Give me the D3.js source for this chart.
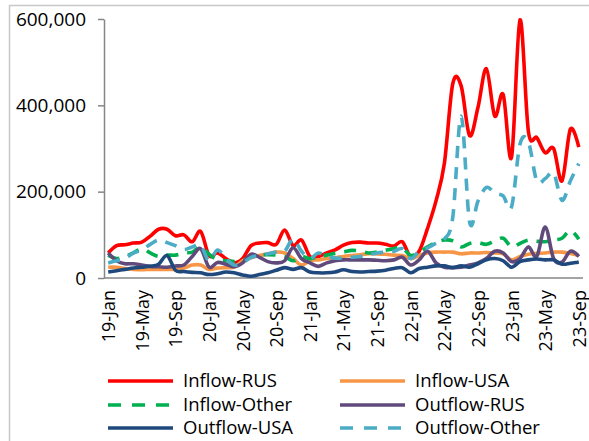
<!DOCTYPE html>
<html>
<head>
  <meta charset="UTF-8">
  <title>Flows</title>
  <script src="https://d3js.org/d3.v7.min.js"></script>
  <style>
    body { margin: 0; background: #fff; }
    svg { font-family: "Open Sans", sans-serif; }
    .line { fill: none; stroke-width: 3.6px; stroke-linejoin: round; }
  </style>
</head>
<body>
  <svg></svg>
  <script>
    const months = [
      "19-Jan","19-Feb","19-Mar","19-Apr","19-May","19-Jun","19-Jul","19-Aug","19-Sep","19-Oct","19-Nov","19-Dec",
      "20-Jan","20-Feb","20-Mar","20-Apr","20-May","20-Jun","20-Jul","20-Aug","20-Sep","20-Oct","20-Nov","20-Dec",
      "21-Jan","21-Feb","21-Mar","21-Apr","21-May","21-Jun","21-Jul","21-Aug","21-Sep","21-Oct","21-Nov","21-Dec",
      "22-Jan","22-Feb","22-Mar","22-Apr","22-May","22-Jun","22-Jul","22-Aug","22-Sep","22-Oct","22-Nov","22-Dec",
      "23-Jan","23-Feb","23-Mar","23-Apr","23-May","23-Jun","23-Jul","23-Aug","23-Sep"
    ];
    const tickLabels = ["19-Jan","19-May","19-Sep","20-Jan","20-May","20-Sep","21-Jan","21-May","21-Sep","22-Jan","22-May","22-Sep","23-Jan","23-May","23-Sep"];
    const yTicks = [0, 200000, 400000, 600000];

    // values in thousands
    const inflowRUS = [58,75,77,81,83,97,113,113,98,100,84,108,52,58,45,35,45,75,81,82,78,111,75,88,50,50,58,65,76,82,83,81,81,78,74,84,48,62,115,178,265,450,445,330,395,485,375,425,280,598,340,325,290,300,225,345,303];
    const inflowUSA = [25,25,22,20,19,20,20,20,20,23,30,30,20,23,24,25,40,47,52,56,60,58,45,30,40,42,45,47,50,52,54,56,56,55,53,52,45,52,58,60,60,60,56,58,58,59,58,56,42,50,55,57,58,60,60,57,52];
    const inflowOther = [53,45,50,58,68,58,50,53,53,58,60,72,55,42,40,38,40,50,53,54,53,50,40,50,45,50,53,57,60,64,62,58,60,64,68,70,52,60,72,82,88,86,72,80,82,78,86,92,72,80,88,85,84,88,92,110,90];
    const outflowRUS = [58,40,33,33,30,27,26,25,28,30,50,68,25,36,32,26,35,55,48,38,35,40,70,45,35,27,35,40,42,42,42,42,41,40,42,48,30,42,62,35,25,24,25,30,35,45,62,58,38,45,72,50,118,45,37,62,50];
    const outflowUSA = [14,17,20,23,25,27,32,52,18,15,13,12,8,10,14,12,7,4,8,12,18,24,20,24,14,12,12,14,19,15,14,15,16,18,22,24,12,22,25,28,28,24,28,25,33,42,45,40,25,38,42,44,42,42,32,34,37];
    const outflowOther = [35,40,45,58,65,78,88,82,75,66,72,76,40,65,45,30,35,48,52,56,60,62,90,62,45,58,50,46,46,48,50,54,58,60,62,68,45,62,70,80,90,140,375,130,178,210,197,190,165,310,315,225,230,243,180,225,265];

    const series = [
      { name: "Inflow-RUS", values: inflowRUS, color: "#FF0000", dash: null },
      { name: "Inflow-USA", values: inflowUSA, color: "#F79646", dash: null },
      { name: "Inflow-Other", values: inflowOther, color: "#00B050", dash: "12,9" },
      { name: "Outflow-RUS", values: outflowRUS, color: "#604A7B", dash: null },
      { name: "Outflow-USA", values: outflowUSA, color: "#1F497D", dash: null },
      { name: "Outflow-Other", values: outflowOther, color: "#4BACC6", dash: "12,9" }
    ];

    const W = 589, H = 441;
    const margin = { top: 19, right: 6, bottom: 163, left: 104 };
    const width = W - margin.left - margin.right;
    const height = H - margin.top - margin.bottom;

    const root = d3.select('svg').attr('width', W).attr('height', H);

    // chart area border
    root.append('rect')
      .attr('x', 9.5).attr('y', 5.5)
      .attr('width', 640).attr('height', 500)
      .attr('fill', 'none').attr('stroke', '#c8c8c8').attr('stroke-width', 1.5);

    const svg = root.append('g')
      .attr('transform', `translate(${margin.left},${margin.top})`);

    const x = d3.scalePoint().domain(months).range([0, width]).padding(0.5);
    const y = d3.scaleLinear().domain([0, 600000]).range([height, 0]);

    // y axis
    const yAxis = svg.append('g')
      .call(d3.axisLeft(y).tickValues(yTicks).tickSize(6).tickSizeOuter(0).tickPadding(12).tickFormat(d3.format(',')));
    yAxis.select('.domain').attr('stroke', '#868686').attr('stroke-width', 1.5);
    yAxis.selectAll('.tick line').attr('stroke', '#868686').attr('stroke-width', 1.5);
    yAxis.selectAll('text').attr('font-size', '19px').attr('fill', '#000').attr('font-family', '"Open Sans", sans-serif');

    // x axis
    const xAxis = svg.append('g')
      .attr('transform', `translate(0,${height})`)
      .call(d3.axisBottom(x).tickValues(tickLabels).tickSize(0).tickSizeOuter(0));
    xAxis.select('.domain').attr('stroke', '#868686').attr('stroke-width', 1.5)
      .attr('d', `M0,0H${width}`);
    xAxis.selectAll('text')
      .attr('font-size', '18px').attr('fill', '#000').attr('font-family', '"Open Sans", sans-serif')
      .attr('text-anchor', 'end')
      .attr('transform', 'rotate(-90)')
      .attr('x', -12).attr('y', 0).attr('dy', '0.36em');

    const line = d3.line()
      .x((d, i) => x(months[i]))
      .y(d => y(d * 1000))
      .curve(d3.curveCardinal.tension(0));

    svg.selectAll('.line')
      .data(series)
      .enter().append('path')
      .attr('class', 'line')
      .attr('d', d => line(d.values))
      .attr('stroke', d => d.color)
      .attr('stroke-dasharray', d => d.dash);

    // legend
    const legend = root.append('g');
    const colX = [108, 340];
    const rowY = [381, 405, 428];
    series.forEach((s, i) => {
      const lx = colX[i % 2], ly = rowY[Math.floor(i / 2)];
      legend.append('line')
        .attr('x1', lx).attr('x2', lx + 65)
        .attr('y1', ly).attr('y2', ly)
        .attr('stroke', s.color).attr('stroke-width', 3.6)
        .attr('stroke-dasharray', s.dash ? '13,11' : null);
      legend.append('text')
        .attr('x', lx + 75).attr('y', ly)
        .attr('dy', '0.35em')
        .attr('font-size', '18.5px')
        .text(s.name);
    });
  </script>
</body>
</html>
